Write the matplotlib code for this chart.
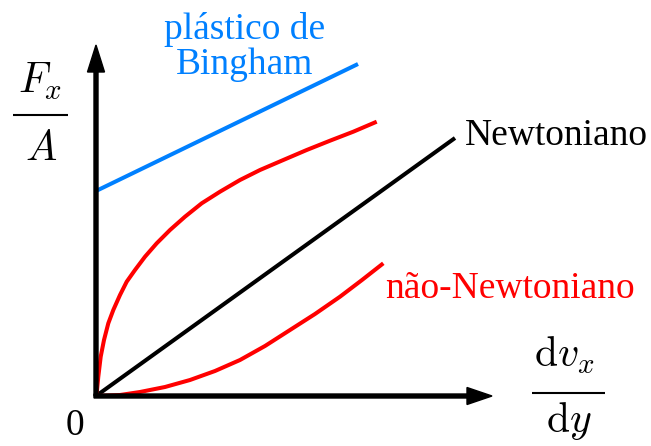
import matplotlib
matplotlib.use('Agg')
import matplotlib.pyplot as plt
import numpy as np

plt.rcParams['mathtext.fontset'] = 'cm'
plt.rcParams['font.family'] = ['Liberation Serif', 'DejaVu Serif']

# ── data (shear rate vs shear stress, arbitrary units) ─────────────────────
bingham_x = [0.0, 2.62]
bingham_y = [2.05, 3.32]

newton_x = [0.0, 3.59]
newton_y = [0.0, 2.58]

# shear-thinning (upper red)
thin_x = [0.0, 0.007, 0.023, 0.047, 0.08, 0.123, 0.173, 0.24, 0.307, 0.39,
          0.49, 0.607, 0.74, 0.89, 1.057, 1.24, 1.44, 1.64, 1.873, 2.107,
          2.34, 2.573, 2.807]
thin_y = [0.0, 0.027, 0.193, 0.393, 0.56, 0.727, 0.86, 1.01, 1.143, 1.26,
          1.393, 1.527, 1.66, 1.793, 1.927, 2.043, 2.16, 2.26, 2.36, 2.46,
          2.553, 2.643, 2.743]

# shear-thickening (lower red)
thick_x = [0.0, 0.24, 0.44, 0.69, 0.94, 1.19, 1.44, 1.69, 1.94, 2.19, 2.44, 2.66, 2.873]
thick_y = [0.0, 0.01, 0.04, 0.09, 0.16, 0.25, 0.36, 0.50, 0.66, 0.82, 0.993, 1.16, 1.327]

BLUE = '#0080ff'
RED = '#ff0000'

fig = plt.figure(figsize=(6.51, 4.46), dpi=100)
ax = fig.add_axes([0, 0, 1, 1])
ax.set_xlim(-0.96, 5.55)
ax.set_ylim(-0.50, 3.96)
ax.axis('off')

lw = 2.9
ax.plot(bingham_x, bingham_y, color=BLUE, lw=lw, solid_capstyle='butt')
ax.plot(newton_x, newton_y, color='black', lw=lw, solid_capstyle='butt')
ax.plot(thin_x, thin_y, color=RED, lw=lw, solid_capstyle='butt', solid_joinstyle='round')
ax.plot(thick_x, thick_y, color=RED, lw=lw, solid_capstyle='butt', solid_joinstyle='round')

# axes arrows
ax.arrow(0, 0, 0, 3.51, width=0.04, head_width=0.17, head_length=0.27,
         length_includes_head=True, color='black', zorder=5)
ax.arrow(-0.02, 0, 3.98, 0, width=0.04, head_width=0.17, head_length=0.25,
         length_includes_head=True, color='black', zorder=5)

fs = 27
ax.text(1.49, 3.49, 'plástico de\nBingham', color=BLUE, fontsize=fs,
        ha='center', va='center', multialignment='center', linespacing=1.0)
ax.text(3.69, 2.51, 'Newtoniano', color='black', fontsize=fs,
        ha='left', va='baseline')
ax.text(2.89, 0.98, 'não-Newtoniano', color=RED, fontsize=fs,
        ha='left', va='baseline')
ax.text(-0.21, -0.39, '0', color='black', fontsize=fs,
        ha='center', va='baseline')

# axis labels as hand-built fractions
mfs = 30
ax.text(-0.56, 3.03, r'$F_x$', fontsize=mfs, ha='center', va='baseline')
ax.plot([-0.83, -0.28], [2.81, 2.81], color='black', lw=1.5, solid_capstyle='butt')
ax.text(-0.55, 2.36, r'$A$', fontsize=mfs, ha='center', va='baseline')

ax.text(4.68, 0.29, r'$\mathrm{d}v_x$', fontsize=mfs, ha='center', va='baseline')
ax.plot([4.36, 5.09], [0.033, 0.033], color='black', lw=1.5, solid_capstyle='butt')
ax.text(4.73, -0.36, r'$\mathrm{d}y$', fontsize=mfs, ha='center', va='baseline')

fig.savefig('out.png', dpi=100)
